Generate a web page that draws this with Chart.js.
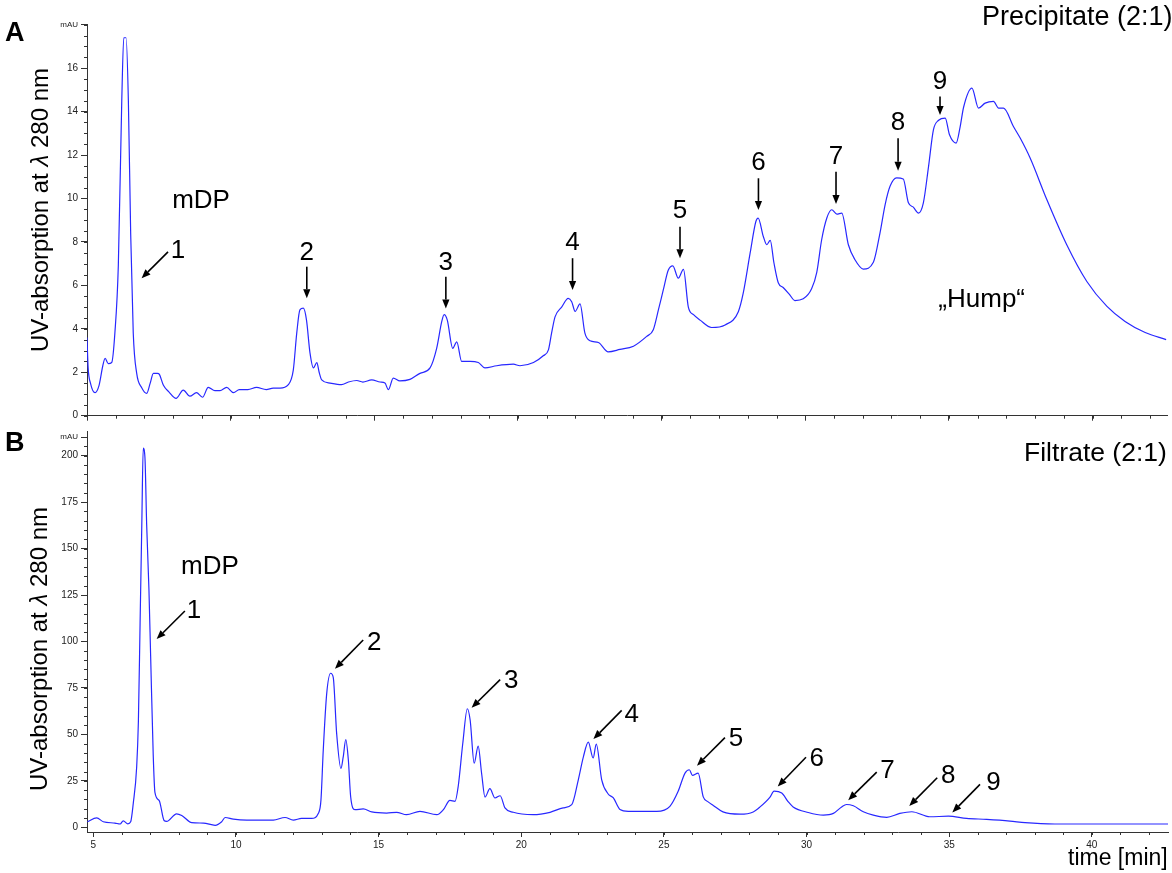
<!DOCTYPE html>
<html>
<head>
<meta charset="utf-8">
<script src="https://cdn.jsdelivr.net/npm/chart.js@4.4.1/dist/chart.umd.min.js"></script>
<style>
  body { margin: 0; background: #fff; }
  #wrap { position: relative; width: 1172px; height: 873px; overflow: hidden; font-family: "Liberation Sans", Arial, sans-serif; color: #000; }
  canvas { position: absolute; left: 0; }
  .lbl { position: absolute; white-space: nowrap; line-height: 1; }
  .ytitle { position: absolute; white-space: nowrap; font-size: 24px; line-height: 1; transform: translate(-50%, -50%) rotate(-90deg); }
</style>
</head>
<body>
<div id="wrap">
  <canvas id="chartA" width="1172" height="430" style="top:0"></canvas>
  <canvas id="chartB" width="1172" height="449" style="top:424px"></canvas>
  <div class="lbl" style="left:5px;top:19px;font-size:27px;font-weight:bold">A</div>
  <div class="lbl" style="left:5px;top:429px;font-size:27px;font-weight:bold">B</div>
  <div class="lbl" style="left:982px;top:3px;font-size:27px">Precipitate (2:1)</div>
  <div class="lbl" style="left:1024px;top:439px;font-size:26.5px">Filtrate (2:1)</div>
  <div class="lbl" style="left:1068px;top:846px;font-size:23px">time [min]</div>
  <div class="ytitle" style="left:40px;top:210px">UV-absorption at <i>λ</i> 280 nm</div>
  <div class="ytitle" style="left:39px;top:649px">UV-absorption at <i>λ</i> 280 nm</div>
</div>
<script>
// precipitate trace (panel A)
const timeA = [5.00, 5.04, 5.12, 5.28, 5.42, 5.55, 5.63, 5.74, 5.86, 5.97, 6.09, 6.21, 6.28, 6.36, 6.44, 6.52, 6.61, 6.73, 6.90, 7.08,
  7.20, 7.31, 7.45, 7.52, 7.66, 7.85, 8.10, 8.35, 8.58, 8.81, 9.02, 9.22, 9.45, 9.63, 9.86, 10.1, 10.3, 10.6, 10.9, 11.24,
  11.48, 11.72, 12.0, 12.18, 12.30, 12.41, 12.53, 12.64, 12.76, 12.88, 13.0, 13.08, 13.17, 13.46, 13.86, 14.1, 14.39, 14.6, 14.91, 15.2,
  15.37, 15.49, 15.66, 15.89, 16.24, 16.59, 16.94, 17.17, 17.35, 17.43, 17.54, 17.73, 17.87, 18.04, 18.33, 18.62, 18.85, 19.26, 19.84, 20.07,
  20.54, 20.88, 21.06, 21.17, 21.29, 21.52, 21.75, 21.87, 21.99, 22.16, 22.33, 22.51, 22.80, 23.14, 23.55, 24.02, 24.48, 24.71, 24.89, 25.06,
  25.23, 25.39, 25.58, 25.76, 25.93, 26.11, 26.34, 26.74, 27.21, 27.67, 27.84, 28.08, 28.28, 28.36, 28.54, 28.66, 28.78, 28.91, 29.06, 29.23,
  29.44, 29.64, 29.93, 30.22, 30.40, 30.57, 30.75, 30.92, 31.10, 31.27, 31.50, 31.73, 32.02, 32.37, 32.60, 32.78, 32.95, 33.18, 33.41, 33.59,
  33.76, 33.94, 34.11, 34.29, 34.46, 34.64, 34.87, 35.02, 35.25, 35.39, 35.51, 35.80, 36.03, 36.26, 36.55, 36.73, 36.90, 37.25, 37.48, 37.83,
  38.41, 39.10, 39.80, 40.50, 41.13, 41.83, 42.56];
const absA = [3.6, 2.2, 1.5, 1.06, 1.4, 2.3, 2.64, 2.4, 2.45, 3.8, 6.9, 14.5, 17.4, 17.4, 14.5, 8.4, 3.8, 1.95, 1.3, 1.03,
  1.5, 1.95, 1.95, 1.9, 1.4, 1.1, 0.8, 1.18, 0.9, 1.06, 0.85, 1.3, 1.15, 1.15, 1.3, 1.06, 1.2, 1.2, 1.3, 1.2,
  1.27, 1.27, 1.42, 2.1, 3.8, 4.87, 4.95, 4.4, 2.9, 2.2, 2.45, 2.0, 1.65, 1.5, 1.43, 1.55, 1.62, 1.55, 1.65, 1.55,
  1.5, 1.2, 1.73, 1.6, 1.67, 1.95, 2.2, 3.1, 4.35, 4.65, 4.4, 3.1, 3.4, 2.5, 2.5, 2.45, 2.2, 2.3, 2.37, 2.3,
  2.45, 2.76, 3.03, 3.8, 4.55, 5.0, 5.4, 5.25, 4.8, 5.15, 3.8, 3.45, 3.37, 2.94, 3.05, 3.2, 3.65, 3.96, 4.88, 5.8,
  6.7, 6.9, 6.33, 6.74, 5.0, 4.65, 4.4, 4.06, 4.18, 4.79, 5.64, 7.48, 8.94, 9.1, 8.25, 7.87, 8.07, 7.03, 6.12, 5.9,
  5.6, 5.3, 5.38, 5.84, 6.6, 8.1, 9.1, 9.48, 9.28, 9.33, 7.87, 7.18, 6.75, 7.06, 8.41, 9.72, 10.56, 10.95, 10.9, 9.8,
  9.6, 9.33, 9.8, 11.47, 13.16, 13.6, 13.7, 12.93, 12.55, 13.3, 14.2, 15.08, 14.16, 14.39, 14.47, 14.16, 14.16, 13.3, 12.78, 11.85,
  9.94, 7.87, 6.18, 5.03, 4.34, 3.83, 3.5];

// filtrate trace (panel B)
const timeB = [4.79, 5.12, 5.35, 5.76, 5.94, 6.05, 6.21, 6.31, 6.40, 6.52, 6.58, 6.64, 6.70, 6.75, 6.81, 6.87, 6.95, 7.01, 7.10, 7.16,
  7.31, 7.48, 7.57, 7.92, 8.10, 8.45, 8.86, 9.27, 9.50, 9.62, 9.91, 10.38, 11.31, 11.72, 12.01, 12.30, 12.65, 12.89, 12.98, 13.06,
  13.18, 13.32, 13.41, 13.53, 13.68, 13.76, 13.85, 13.94, 14.02, 14.17, 14.46, 14.76, 15.28, 15.63, 15.98, 16.45, 17.04, 17.27, 17.50, 17.68,
  17.79, 17.95, 18.11, 18.21, 18.35, 18.49, 18.61, 18.73, 18.90, 19.08, 19.26, 19.43, 19.72, 20.42, 21.01, 21.47, 21.77, 22.00, 22.18, 22.35,
  22.52, 22.63, 22.82, 23.04, 23.23, 23.46, 23.75, 24.75, 25.21, 25.50, 25.74, 25.89, 26.00, 26.20, 26.38, 26.55, 26.72, 27.07, 27.67, 28.13,
  28.37, 28.72, 28.86, 29.13, 29.36, 29.53, 30.06, 30.59, 30.94, 31.23, 31.40, 31.64, 31.99, 32.34, 32.81, 33.27, 33.69, 34.32, 34.97, 35.61,
  36.31, 37.13, 37.66, 38.70, 40.28, 42.67];
const absB = [3.0, 5.1, 3.0, 2.3, 1.8, 3.5, 1.9, 3.0, 12.8, 32.5, 57, 110, 163, 204, 199, 163, 128, 92, 39, 18.8,
  14.4, 3.7, 3.2, 7.3, 6.4, 2.5, 2.3, 1.1, 3.0, 5.3, 4.4, 3.9, 3.9, 5.3, 3.9, 4.8, 4.8, 7.6, 14.8, 41.5,
  71.8, 82.9, 80.7, 50.4, 31.7, 37.9, 47.2, 36.2, 16.6, 9.5, 9.9, 8.3, 7.7, 8.1, 6.8, 8.6, 6.8, 9.5, 14.5, 14.0,
  22, 45.1, 63.8, 57.6, 34.5, 43.7, 29.1, 16.3, 20.8, 15.8, 17, 10.5, 8.1, 6.8, 8.1, 10.5, 12.2, 25.6, 38.1, 45.8,
  37.3, 44.8, 25.6, 18.1, 15.8, 9.6, 8.6, 8.6, 11.3, 19.4, 29.2, 31.0, 28, 29.2, 16.4, 13.7, 11.9, 8.3, 7.1, 8.3,
  11, 16.3, 19.5, 18.5, 13.7, 11, 8, 6.6, 7.5, 11, 12.3, 11.6, 8.4, 6.6, 5.4, 7.5, 8.4, 5.7, 6.0, 4.8,
  4.3, 3.4, 2.5, 1.8, 1.8, 1.8];

const xTicks = [5, 10, 15, 20, 25, 30, 35, 40];
const yTicksA = [0, 2, 4, 6, 8, 10, 12, 14, 16, 18];
const yTicksB = [0, 25, 50, 75, 100, 125, 150, 175, 200, 210];

// peak annotations, in data units [time, mAU]
const peakNames = ['1', '2', '3', '4', '5', '6', '7', '8', '9'];
const labelA = [[8.17, 7.58], [12.65, 7.51], [17.49, 7.05], [21.90, 7.97], [25.64, 9.42], [28.37, 11.63], [31.07, 11.93], [33.23, 13.50], [34.69, 15.37]];
const tailA = [[7.82, 7.54], [12.65, 6.86], [17.49, 6.40], [21.90, 7.25], [25.64, 8.70], [28.37, 10.93], [31.07, 11.23], [33.23, 12.77], [34.69, 14.69]];
const tipA = [[6.90, 6.33], [12.65, 5.41], [17.49, 4.94], [21.90, 5.79], [25.64, 7.25], [28.37, 9.47], [31.07, 9.75], [33.23, 11.28], [34.69, 13.84]];
const labelB = [[8.53, 116.4], [14.85, 99.5], [19.65, 78.6], [23.87, 60.8], [27.53, 47.5], [30.36, 36.8], [32.84, 30.6], [34.97, 27.9], [36.55, 23.8]];
const tailB = [[8.21, 116.4], [14.46, 100.8], [19.26, 79.5], [23.52, 62.9], [27.14, 48.3], [29.98, 37.7], [32.46, 29.7], [34.58, 26.7], [36.08, 23.1]];
const tipB = [[7.22, 101.3], [13.47, 85.3], [18.26, 64.3], [22.53, 47.5], [26.16, 33.2], [28.99, 22.0], [31.46, 14.6], [33.60, 11.5], [35.11, 8.0]];
const wordsA = [{ text: 'mDP', at: [8.97, 9.88] }, { text: '\u201EHump\u201C', at: [36.14, 5.33] }];
const wordsB = [{ text: 'mDP', at: [9.09, 139.9] }];

const FONT = '"Liberation Sans", Arial, sans-serif';
Chart.defaults.font.family = FONT;

// short ticks between the labelled ones
function minorTicks(xStep, yStep) {
  return {
    id: 'minorTicks',
    afterDraw(chart) {
      const { ctx, scales: { x, y } } = chart;
      ctx.save();
      ctx.strokeStyle = '#333';
      ctx.lineWidth = 1;
      ctx.beginPath();
      for (let i = Math.ceil(x.min / xStep); i * xStep <= x.max; i++) {
        const px = Math.round(x.getPixelForValue(i * xStep)) + 0.5;
        ctx.moveTo(px, x.top);
        ctx.lineTo(px, x.top + 3);
      }
      for (let i = Math.ceil(y.min / yStep); i * yStep <= y.max; i++) {
        const py = Math.round(y.getPixelForValue(i * yStep)) + 0.5;
        ctx.moveTo(y.right, py);
        ctx.lineTo(y.right - 3, py);
      }
      ctx.stroke();
      ctx.restore();
    }
  };
}

function peakArrows(pos, tail, tip, words) {
  return {
    id: 'peakArrows',
    afterDatasetsDraw(chart) {
      const { ctx, scales: { x, y } } = chart;
      ctx.save();
      ctx.strokeStyle = '#000';
      ctx.fillStyle = '#000';
      ctx.lineWidth = 1.6;
      tip.forEach((t, i) => {
        const x1 = x.getPixelForValue(tail[i][0]), y1 = y.getPixelForValue(tail[i][1]);
        const x2 = x.getPixelForValue(t[0]), y2 = y.getPixelForValue(t[1]);
        const a = Math.atan2(y2 - y1, x2 - x1), len = 9, w = 3.6;
        const bx = x2 - len * Math.cos(a), by = y2 - len * Math.sin(a);
        ctx.beginPath();
        ctx.moveTo(x1, y1);
        ctx.lineTo(bx, by);
        ctx.stroke();
        ctx.beginPath();
        ctx.moveTo(x2, y2);
        ctx.lineTo(bx + w * Math.sin(a), by - w * Math.cos(a));
        ctx.lineTo(bx - w * Math.sin(a), by + w * Math.cos(a));
        ctx.closePath();
        ctx.fill();
      });
      ctx.font = '26px ' + FONT;
      ctx.textAlign = 'center';
      ctx.textBaseline = 'middle';
      pos.forEach((p, i) => ctx.fillText(peakNames[i], x.getPixelForValue(p[0]), y.getPixelForValue(p[1])));
      words.forEach(w => ctx.fillText(w.text, x.getPixelForValue(w.at[0]), y.getPixelForValue(w.at[1])));
      ctx.restore();
    }
  };
}

function panel(id, times, values, o) {
  return new Chart(document.getElementById(id), {
    type: 'line',
    data: {
      datasets: [{
        data: times.map((t, i) => ({ x: t, y: values[i] })),
        borderColor: 'rgb(40,40,255)',
        borderWidth: 1.2,
        pointRadius: 0,
        cubicInterpolationMode: 'monotone',
        fill: false
      }]
    },
    options: {
      responsive: false,
      animation: false,
      devicePixelRatio: 1,
      layout: { padding: o.padding },
      plugins: { legend: { display: false }, tooltip: { enabled: false } },
      scales: {
        x: {
          type: 'linear', min: o.xMin, max: o.xMax,
          afterFit: s => { s.height = o.xHeight; },
          afterBuildTicks: s => { s.ticks = xTicks.map(v => ({ value: v })); },
          grid: { drawOnChartArea: false, tickLength: 5, tickColor: '#333' },
          border: { color: '#333' },
          ticks: { display: o.xLabels, padding: 2, color: '#222', font: { size: 10 }, maxRotation: 0, autoSkip: false, callback: v => String(v) }
        },
        y: {
          min: o.yMin, max: o.yMax,
          afterFit: s => { s.width = 87; },
          afterBuildTicks: s => { s.ticks = o.yTicks.map(v => ({ value: v })); },
          grid: { drawOnChartArea: false, tickLength: 6, tickColor: '#333' },
          border: { color: '#333' },
          ticks: {
            padding: 3, color: '#222', autoSkip: false,
            font: c => ({ size: c.tick && c.tick.value === o.yTicks[o.yTicks.length - 1] ? 8 : 10 }),
            callback: v => v === o.yTicks[o.yTicks.length - 1] ? 'mAU' : String(v)
          }
        }
      }
    },
    plugins: [minorTicks(1, o.yMinor), peakArrows(o.labels, o.tails, o.tips, o.words)]
  });
}

panel('chartA', timeA, absA, {
  padding: { top: 24.7, right: 5, left: 0, bottom: 0 },
  xMin: 5, xMax: 42.59, xHeight: 14.3, xLabels: false,
  yMin: 0, yMax: 18, yTicks: yTicksA, yMinor: 0.5,
  labels: labelA, tails: tailA, tips: tipA, words: wordsA
});

panel('chartB', timeB, absB, {
  padding: { top: 4.3, right: 3.7, left: 0, bottom: 0 },
  xMin: 4.779, xMax: 42.68, xHeight: 41, xLabels: true,
  yMin: -2.5, yMax: 212.8, yTicks: yTicksB, yMinor: 5,
  labels: labelB, tails: tailB, tips: tipB, words: wordsB
});
</script>
</body>
</html>
